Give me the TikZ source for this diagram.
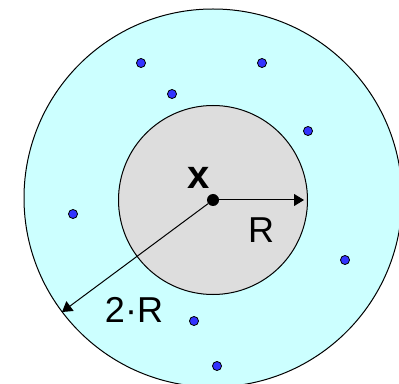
\documentclass[tikz,border=0pt]{standalone}
\usepackage{fontspec}
\setmainfont{Liberation Sans}
\usetikzlibrary{arrows.meta}
\definecolor{ballcyan}{RGB}{204,255,255}
\definecolor{ballgray}{RGB}{221,221,221}
\definecolor{ptblue}{RGB}{51,51,255}

\begin{document}
\begin{tikzpicture}[x=0.75pt, y=-0.75pt,
    pt/.style={circle, draw=black, fill=ptblue, line width=0.6pt, inner sep=0pt, minimum size=6.8pt},
    lbl/.style={font=\fontsize{27}{32}\selectfont, inner sep=0pt},
    radius arrow/.style={-{Triangle[length=7.5pt, width=9pt]}, line width=0.75pt}]
  \useasboundingbox (0,0) rectangle (399,384);
  % outer ball 2R and inner ball R
  \fill[ballcyan] (213,198) circle (189);
  \draw[line width=0.75pt] (213,198) circle (189);
  \filldraw[fill=ballgray, line width=0.75pt] (213,200) circle (94.5);
  % sample points
  \foreach \px/\py [count=\i] in {141/63, 262/63, 172/94, 308/131, 73/214, 345/260, 194/321, 217/366} {
    \node[pt] (p\i) at (\px,\py) {};
  }
  % centre
  \node[circle, fill=black, inner sep=0pt, minimum size=9pt] (ctr) at (213,200) {};
  \coordinate (rEnd) at (304,200);
  \coordinate (rrEnd) at (62,312);
  \draw[radius arrow] (ctr) -- (rEnd);
  \draw[radius arrow] (ctr) -- (rrEnd);
  \node[lbl, font=\fontsize{30}{36}\selectfont\bfseries] (xlbl) at (199,178) {x};
  \node[lbl] (rlbl) at (261,230) {R};
  \node[lbl] (rrlbl) at (134,310) {2·R};
\end{tikzpicture}
\end{document}
